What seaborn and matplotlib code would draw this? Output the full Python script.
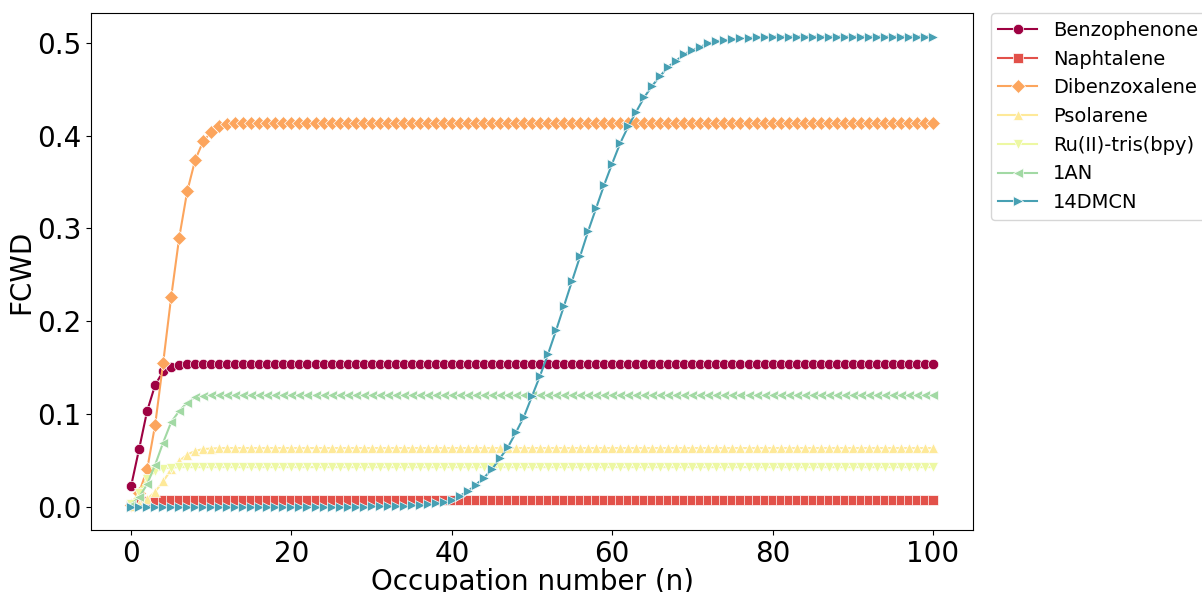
import numpy as np
import pandas as pd
import seaborn as sns
import matplotlib
matplotlib.use("Agg")
import matplotlib.pyplot as plt

# Occupation number
n = list(range(101))

# FCWD values (rise, then plateau)
benzophenone = [0.022, 0.062, 0.103, 0.131, 0.146, 0.151, 0.153] + [0.154] * 94
naphtalene = [0.001, 0.004, 0.006] + [0.0065] * 98
dibenzoxalene = [0.002, 0.015, 0.040, 0.088, 0.155, 0.226, 0.290, 0.340, 0.374,
                 0.394, 0.404, 0.410, 0.4125, 0.4135] + [0.414] * 87
psolarene = [0.001, 0.003, 0.008, 0.016, 0.027, 0.040, 0.049, 0.056, 0.060,
             0.062, 0.0625, 0.063] + [0.063] * 89
ru_bpy = [0.003, 0.015, 0.030, 0.038, 0.041, 0.042] + [0.0425] * 95
one_an = [0.002, 0.010, 0.024, 0.045, 0.069, 0.091, 0.103, 0.112, 0.118,
          0.1195] + [0.120] * 91
dmcn = ([0.0] * 30
        + [0.0001, 0.0002, 0.0003, 0.0005, 0.0007, 0.0011, 0.0017, 0.0025, 0.0036, 0.0052,
           0.0075, 0.0115, 0.0165, 0.0235, 0.031, 0.040, 0.052, 0.064, 0.080, 0.097,
           0.119, 0.141, 0.1645, 0.190, 0.2166, 0.2435, 0.270, 0.297, 0.322, 0.347,
           0.370, 0.392, 0.410, 0.426, 0.4415, 0.454, 0.4645, 0.4745, 0.481, 0.488,
           0.4925, 0.496, 0.4995, 0.502, 0.503, 0.504, 0.505, 0.5055, 0.506, 0.5065]
        + [0.507] * 21)

noms = ["Benzophenone", "Naphtalene", "Dibenzoxalene", "Psolarene",
        "Ru(II)-tris(bpy)", "1AN", "14DMCN"]
series = [benzophenone, naphtalene, dibenzoxalene, psolarene, ru_bpy, one_an, dmcn]

# Format long pour seaborn
df = pd.concat([pd.DataFrame({"n": n, "FCWD": vals, "molecule": nom})
                for nom, vals in zip(noms, series)], ignore_index=True)

cmap = plt.get_cmap("Spectral")
couleurs = [cmap(i / 7) for i in range(7)]
marqueurs = ["o", "s", "D", "^", "v", "<", ">"]

fig = plt.figure(figsize=(12.02, 5.92), dpi=100)
ax = fig.add_axes([0.0757, 0.1047, 0.7338, 0.8733])

# bords blancs fins des marqueurs
sns.lineplot(data=df, x="n", y="FCWD", hue="molecule", style="molecule",
             hue_order=noms, style_order=noms, palette=couleurs,
             markers=marqueurs, dashes=False, markersize=7.5,
             markeredgewidth=0.5, linewidth=1.5, ax=ax)

ax.set_xlabel("Occupation number (n)", fontsize=20, labelpad=0)
ax.set_ylabel("FCWD", fontsize=20, labelpad=1)
ax.tick_params(labelsize=20)
ax.set_xticks([0, 20, 40, 60, 80, 100])
ax.set_yticks([0.0, 0.1, 0.2, 0.3, 0.4, 0.5])

sns.move_legend(ax, "upper left", bbox_to_anchor=(1.02, 1.0), borderaxespad=0,
                fontsize=14, title=None, frameon=True)

plt.savefig("out.png", dpi=100)
